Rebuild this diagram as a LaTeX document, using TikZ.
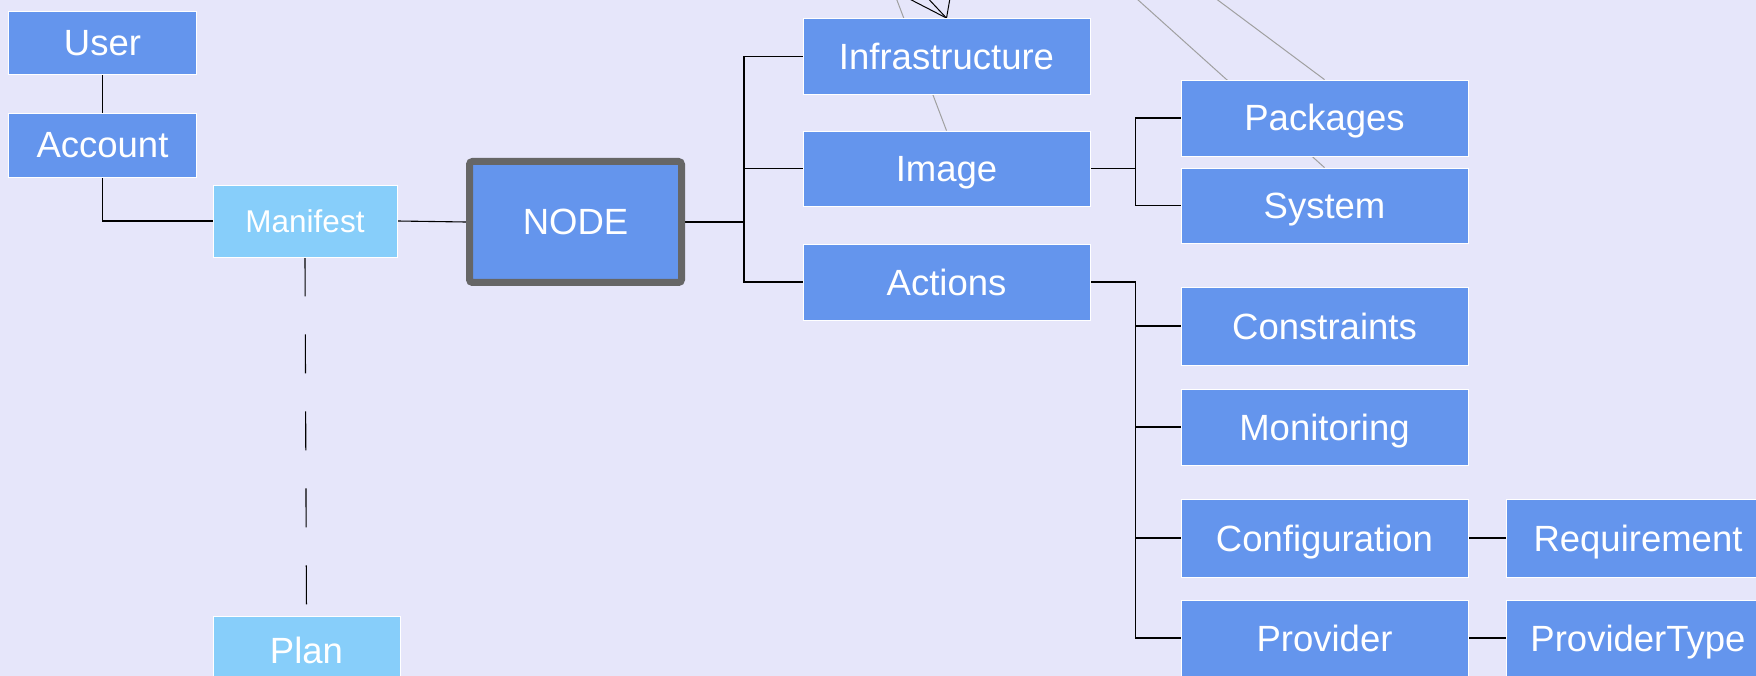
\documentclass[tikz,border=0pt]{standalone}
\usepackage{fontspec}
\setmainfont{Liberation Sans}
\definecolor{bgcol}{HTML}{E6E6FA}
\definecolor{boxblue}{HTML}{6495ED}
\definecolor{boxlight}{HTML}{87CEFA}
\definecolor{framegray}{HTML}{666666}
\definecolor{linkgray}{HTML}{A0A0A0}
\pgfdeclarelayer{bg}
\pgfdeclarelayer{edges}
\pgfsetlayers{bg,edges,main}
\tikzset{
  entity/.style={rectangle, fill=boxblue, draw=white, line width=0.8pt,
    text=white, minimum width=287pt, minimum height=76pt, inner sep=0pt,
    text height=26pt, text depth=0pt,
    font=\fontsize{36.5}{40}\selectfont},
  lightentity/.style={entity, fill=boxlight},
  focus/.style={entity, draw=framegray, line width=7pt, rounded corners=3pt,
    minimum width=212pt, minimum height=121pt},
  tree/.style={draw=black, line width=1.1pt},
  faint/.style={draw=linkgray, line width=1pt},
}
\begin{document}
\begin{tikzpicture}[x=1pt, y=-1pt]
\useasboundingbox (0,0) rectangle (1756,676);
\begin{pgfonlayer}{bg}
  \fill[bgcol] (0,0) rectangle (1756,676);
\end{pgfonlayer}

% left column
\node[entity, minimum width=188pt, minimum height=63pt] (user) at (102.5,42.5) {User};
\node[entity, minimum width=188pt, minimum height=64pt] (account) at (102.5,145) {Account};
\node[lightentity, minimum width=184pt, minimum height=72pt, text height=22.5pt,
      font=\fontsize{31.5}{35}\selectfont] (manifest) at (305,221) {Manifest};
\node[lightentity, minimum width=187pt, minimum height=68pt] (plan) at (306.5,650) {Plan};

% central node
\node[focus] (core) at (575.5,222) {NODE};

% first level
\node[entity] (infra) at (946.5,56.5) {Infrastructure};
\node[entity, minimum height=75pt] (image) at (946.5,168.5) {Image};
\node[entity] (actions) at (946.5,282) {Actions};

% second level
\node[entity] (packages) at (1324.5,118) {Packages};
\node[entity, minimum height=75pt] (system) at (1324.5,205.5) {System};
\node[entity, minimum height=78pt] (constraints) at (1324.5,326) {Constraints};
\node[entity] (monitoring) at (1324.5,427) {Monitoring};
\node[entity, minimum height=78pt] (configuration) at (1324.5,538) {Configuration};
\node[entity] (provider) at (1324.5,638) {Provider};

% third level
\node[entity, minimum width=264pt, minimum height=78pt] (requirement) at (1638,538) {Requirement};
\node[entity, minimum width=264pt] (providertype) at (1638,638) {ProviderType};

% links coming in from above the frame
\coordinate (srcA) at (881.7,-40);
\coordinate (srcB) at (1093.6,-40);
\coordinate (srcC) at (1164,-40);
\coordinate (srcD) at (834,-40);
\coordinate (srcE) at (892,-40);
\coordinate (srcF) at (956.7,-40);

\begin{pgfonlayer}{edges}
  \draw[tree] (user) -- (account);
  \draw[tree] (account.south) |- (manifest.west);
  \draw[tree] (manifest.east) -- (core.west);
  \draw[tree, dash pattern=on 39pt off 38pt] (manifest.south) -- (plan.north);

  \draw[tree] (core.east) -- ++(59,0) |- (infra.west);
  \draw[tree] (core.east) -- ++(59,0) |- (image.west);
  \draw[tree] (core.east) -- ++(59,0) |- (actions.west);

  \draw[tree] (image.east) -- ++(45,0) |- (packages.west);
  \draw[tree] (image.east) -- ++(45,0) |- (system.west);

  \draw[tree] (actions.east) -- ++(45,0) |- (constraints.west);
  \draw[tree] (actions.east) -- ++(45,0) |- (monitoring.west);
  \draw[tree] (actions.east) -- ++(45,0) |- (configuration.west);
  \draw[tree] (actions.east) -- ++(45,0) |- (provider.west);

  \draw[tree] (configuration.east) -- (requirement.west);
  \draw[tree] (provider.east) -- (providertype.west);

  \draw[faint] (srcA) -- (image.north);
  \draw[faint] (srcB) -- (system.north);
  \draw[faint] (srcC) -- (packages.north);

  \draw[black, line width=1pt] (srcD) -- (infra.north);
  \draw[black, line width=1pt] (srcE) -- (infra.north);
  \draw[black, line width=1pt] (srcF) -- (infra.north);
\end{pgfonlayer}
\end{tikzpicture}
\end{document}
